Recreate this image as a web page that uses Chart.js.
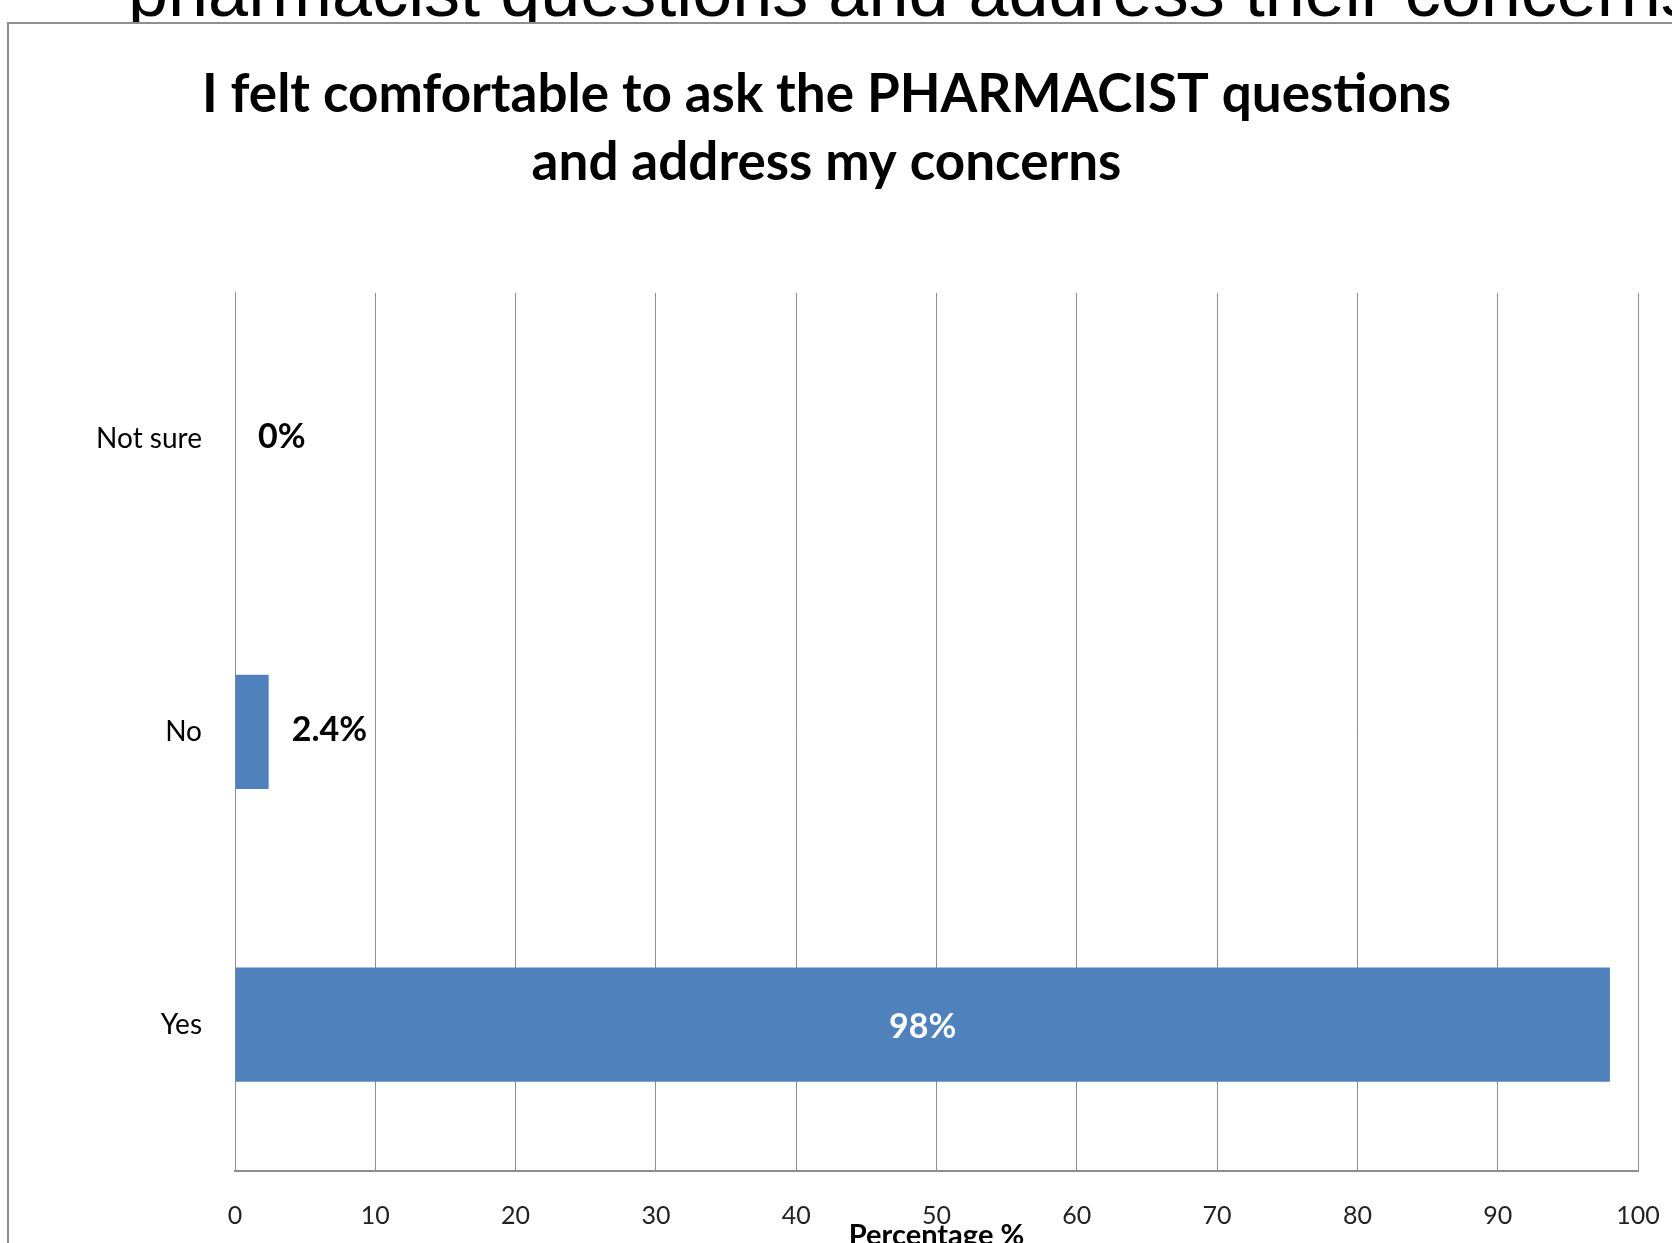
<!DOCTYPE html>
<html>
<head>
<meta charset="utf-8">
<script src="https://cdn.jsdelivr.net/npm/chart.js@4/dist/chart.umd.min.js"></script>
<style>
    html, body { margin: 0; padding: 0; background: #fff; }
    body { width: 1672px; height: 1243px; position: relative; overflow: hidden; }
    #behind {
        position: absolute; left: 128px; top: -45px; z-index: 1;
        font-family: "Liberation Sans", Arial, sans-serif; font-size: 72px;
        line-height: 72px; white-space: nowrap; color: #000;
    }
    #frame {
        position: absolute; left: 7px; top: 22px; width: 1700px; height: 1300px;
        border: 2px solid #8f8f8f; background: #fff; z-index: 2;
    }
    #chart { position: absolute; left: 0; top: 0; z-index: 3; }
</style>
</head>
<body>
<div id="behind">pharmacist questions and address their concerns</div>
<div id="frame"></div>
<canvas id="chart" width="1672" height="1243"></canvas>
<script>
const categories = ["Not sure", "No", "Yes"];
const percentValues = [0, 2.4, 98];
const xTicks = [0, 10, 20, 30, 40, 50, 60, 70, 80, 90, 100];

// value labels: outside the end for small bars, white and centred inside the big one
const barLabels = {
    id: "barLabels",
    afterDatasetsDraw(chart) {
        const ctx = chart.ctx;
        const meta = chart.getDatasetMeta(0);
        ctx.save();
        ctx.font = "bold 34px Lato, sans-serif";
        ctx.textBaseline = "middle";
        meta.data.forEach((bar, i) => {
            const v = percentValues[i];
            const txt = v + "%";
            if (v > 50) {
                ctx.fillStyle = "#ffffff";
                ctx.textAlign = "center";
                ctx.fillText(txt, (bar.x + bar.base) / 2, bar.y + 2);
            } else {
                ctx.fillStyle = "#000000";
                ctx.textAlign = "left";
                ctx.fillText(txt, bar.x + 23, bar.y - 2);
            }
        });
        ctx.restore();
    }
};

new Chart(document.getElementById("chart"), {
    type: "bar",
    data: {
        labels: categories,
        datasets: [{
            data: percentValues,
            backgroundColor: "#4f81bd",
            borderWidth: 0,
            categoryPercentage: 1,
            barPercentage: 0.39
        }]
    },
    options: {
        indexAxis: "y",
        responsive: false,
        animation: false,
        layout: { padding: { left: 15, right: 34, top: 0, bottom: 0 } },
        plugins: {
            legend: { display: false },
            tooltip: { enabled: false },
            title: {
                display: true,
                text: ["I felt comfortable to ask the PHARMACIST questions", "and address my concerns"],
                color: "#000",
                font: { family: "Lato", size: 53, weight: "bold", lineHeight: 1.3 },
                padding: { top: 60, bottom: 95 }
            }
        },
        scales: {
            x: {
                min: 0,
                max: 100,
                afterBuildTicks: (scale) => { scale.ticks = xTicks.map(v => ({ value: v })); },
                afterFit: (scale) => { scale.height = 72; },
                grid: { color: "#8e8e8e", lineWidth: 1, drawTicks: true, tickLength: 22, tickColor: "rgba(0,0,0,0)" },
                border: { display: true, color: "#8e8e8e", width: 2 },
                ticks: { color: "#222", font: { family: "Lato", size: 25 }, padding: 8, maxRotation: 0 },
                title: {
                    display: true,
                    text: "Percentage %",
                    color: "#000",
                    font: { family: "Lato", size: 29, weight: "bold" },
                    padding: { top: 0, bottom: -10 }
                }
            },
            y: {
                afterFit: (scale) => { scale.width = 220; },
                grid: { display: false, drawTicks: false },
                border: { display: true, color: "#8e8e8e", width: 1 },
                ticks: { color: "#000", font: { family: "Lato", size: 28 }, padding: 33 }
            }
        }
    },
    plugins: [barLabels]
});
</script>
</body>
</html>
